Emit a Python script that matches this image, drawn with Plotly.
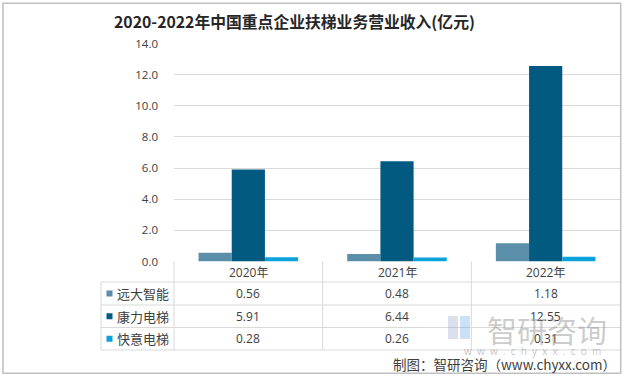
import plotly.graph_objects as go

years = ["2020年", "2021年", "2022年"]
series_names = ["远大智能", "康力电梯", "快意电梯"]
yuanda = [0.56, 0.48, 1.18]
kangli = [5.91, 6.44, 12.55]
kuaiyi = [0.28, 0.26, 0.31]
colors = ["#5B8FA9", "#025A80", "#0BA3DA"]
y_ticks = [0, 2, 4, 6, 8, 10, 12, 14]

W, H = 624, 377
def px(x): return x / W
def py(y): return 1 - y / H

# plot area pixel bounds
L, R, T, B = 174, 620, 43.5, 261.5
rows = [282, 305, 327.5, 350]
col_edges = [L, L + (R - L) / 3, L + 2 * (R - L) / 3, R]
tbl_left = 101

fig = go.Figure()
for name, vals, c in zip(series_names, [yuanda, kangli, kuaiyi], colors):
    fig.add_trace(go.Bar(x=years, y=vals, name=name, marker_color=c, marker_line_width=0))

shapes = []
annotations = []
line_col = "#D9D9D9"
def hline(x0, x1, y, col=line_col, w=1):
    shapes.append(dict(type="line", xref="paper", yref="paper", x0=px(x0), x1=px(x1), y0=py(y), y1=py(y),
                       line=dict(color=col, width=w)))
def vline(x, y0, y1, col=line_col, w=1):
    shapes.append(dict(type="line", xref="paper", yref="paper", x0=px(x), x1=px(x), y0=py(y0), y1=py(y1),
                       line=dict(color=col, width=w)))

# table lines
for r in rows:
    hline(tbl_left, R, r)
for xe in col_edges[:-1]:
    vline(xe, B, rows[-1])
vline(tbl_left, rows[0], rows[-1])
# outer border
shapes.append(dict(type="rect", xref="paper", yref="paper", x0=px(3), x1=px(620.7), y0=py(373.3), y1=py(3.3),
                   line=dict(color="#BFBFBF", width=1.5)))

txt_font = dict(family="Open Sans", size=12, color="#404040")
cn_font = dict(family="Noto Sans CJK SC", size=13, color="#404040")
col_centers = [(col_edges[i] + col_edges[i + 1]) / 2 for i in range(3)]
# header
for yr, cx in zip(years, col_centers):
    annotations.append(dict(x=px(cx), y=py((B + rows[0]) / 2 + 1), xref="paper", yref="paper", text=yr,
                            showarrow=False, font=dict(family="Open Sans, Noto Sans CJK SC", size=12, color="#404040"),
                            xanchor="center", yanchor="middle"))
# rows
for i, (name, vals, c) in enumerate(zip(series_names, [yuanda, kangli, kuaiyi], colors)):
    yc = (rows[i] + rows[i + 1]) / 2
    shapes.append(dict(type="rect", xref="paper", yref="paper", x0=px(106.5), x1=px(112.5), y0=py(yc + 3), y1=py(yc - 3),
                       fillcolor=c, line=dict(width=0)))
    annotations.append(dict(x=px(114.5), y=py(yc), xref="paper", yref="paper", text=name, showarrow=False,
                            font=cn_font, xanchor="left", yanchor="middle"))
    for v, cx in zip(vals, col_centers):
        annotations.append(dict(x=px(cx), y=py(yc), xref="paper", yref="paper", text=f"{v:.2f}",
                                showarrow=False, font=txt_font, xanchor="center", yanchor="middle"))

# watermark logo (approximate)
shapes.append(dict(type="rect", xref="paper", yref="paper", x0=px(448), x1=px(458), y0=py(339), y1=py(316),
                   fillcolor="rgba(150,170,200,0.35)", line=dict(width=0)))
shapes.append(dict(type="rect", xref="paper", yref="paper", x0=px(460), x1=px(470), y0=py(339), y1=py(316),
                   fillcolor="rgba(110,170,225,0.35)", line=dict(width=0)))
annotations.append(dict(x=px(547), y=py(329), xref="paper", yref="paper", text="智研咨询", showarrow=False,
                        font=dict(family="Noto Sans CJK SC", size=30, color="rgba(140,140,140,0.45)"),
                        xanchor="center", yanchor="middle"))
annotations.append(dict(x=px(532), y=py(351), xref="paper", yref="paper", text="w  w  w  .  c  h  y  x  x  .  c  o  m",
                        showarrow=False, font=dict(family="Open Sans", size=10, color="rgba(140,140,140,0.5)"),
                        xanchor="center", yanchor="middle"))
# footer
annotations.append(dict(x=px(618), y=py(364), xref="paper", yref="paper", text="制图：智研咨询（www.chyxx.com）",
                        showarrow=False, font=dict(family="Noto Sans CJK SC", size=13.5, color="#404040"),
                        xanchor="right", yanchor="middle"))
# title
annotations.append(dict(x=px(294.5), y=py(22), xref="paper", yref="paper",
                        text="<b>2020-2022年中国重点企业扶梯业务营业收入(亿元)</b>",
                        showarrow=False, font=dict(family="Noto Sans CJK SC", size=15.8, color="#262626"),
                        xanchor="center", yanchor="middle"))

fig.update_layout(
    width=W, height=H, margin=dict(l=0, r=0, t=0, b=0, pad=0, autoexpand=False),
    paper_bgcolor="white", plot_bgcolor="white",
    barmode="group", bargap=0.33, bargroupgap=0,
    showlegend=False,
    shapes=shapes, annotations=annotations,
    xaxis=dict(domain=[px(L), px(R)], showticklabels=False, showgrid=False, showline=False, zeroline=False,
               ticks="", automargin=False),
    yaxis=dict(domain=[py(B), py(T)], range=[0, 14], tickvals=y_ticks, tickformat=".1f",
               showgrid=True, gridcolor="#D9D9D9", gridwidth=1, zeroline=False, showline=False, ticks="",
               ticklabelstandoff=15, automargin=False,
               tickfont=dict(family="Open Sans", size=11.5, color="#404040")),
)
fig.write_html("out.html", config={"displayModeBar": False},
               post_script="document.body.style.margin='0';document.body.style.overflow='hidden';")
